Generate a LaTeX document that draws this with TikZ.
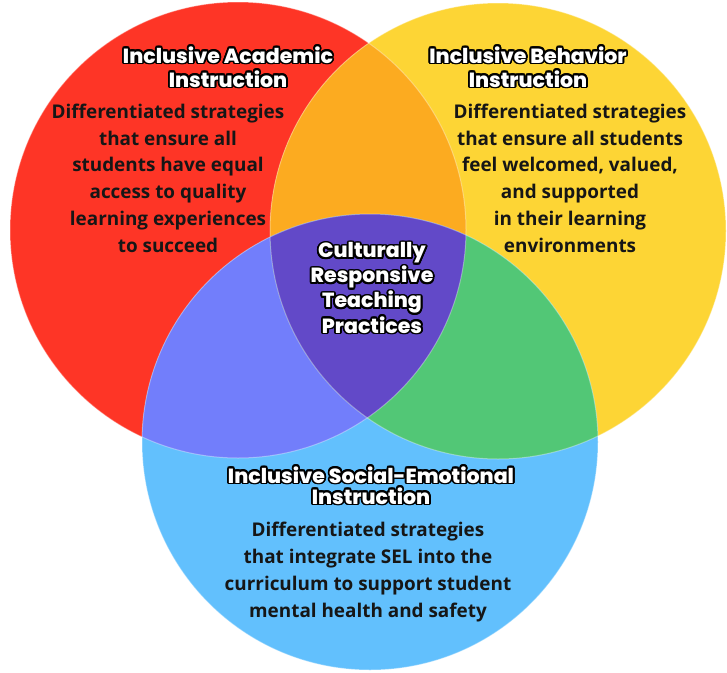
\documentclass[tikz,border=0pt]{standalone}
\usepackage{fontspec}
\usepackage{contour}
\newfontfamily\bodyfont{Open Sans}
\newfontfamily\headfont{Poppins}[BoldFont={Poppins ExtraBold}]
\contourlength{1.8pt}
\definecolor{redc}{RGB}{254,53,38}
\definecolor{yellowc}{RGB}{253,213,53}
\definecolor{bluec}{RGB}{98,192,253}
\definecolor{orangec}{RGB}{252,171,32}
\definecolor{violetc}{RGB}{114,126,251}
\definecolor{greenc}{RGB}{82,199,118}
\definecolor{purplec}{RGB}{98,73,200}
\definecolor{inkc}{RGB}{22,22,22}
\begin{document}
\begin{tikzpicture}[x=1pt,y=-1pt,
  venn/.style={line width=1pt,draw=white,draw opacity=0.35},
  head/.style={text=white,align=center,inner sep=0pt,anchor=base,
    font=\headfont\bfseries\fontsize{20.5}{#1}\selectfont},
  head/.default=24,
  body/.style={text=inkc,align=center,inner sep=0pt,anchor=base,
    font=\bodyfont\bfseries\fontsize{18.9}{26.7}\selectfont}]
\useasboundingbox (0,0) rectangle (727,672);
\fill[white] (0,0) rectangle (727,672);

\coordinate (acad) at (238,230);
\coordinate (behav) at (498,231);
\coordinate (sel) at (370,442);
\def\rad{228pt}

% circles
\fill[redc] (acad) circle (\rad);
\fill[yellowc] (behav) circle (\rad);
\fill[bluec] (sel) circle (\rad);

% overlaps
\begin{scope}
\clip (acad) circle (\rad);
\fill[orangec] (behav) circle (\rad);
\fill[violetc] (sel) circle (\rad);
\end{scope}
\begin{scope}
\clip (behav) circle (\rad);
\fill[greenc] (sel) circle (\rad);
\end{scope}
\begin{scope}
\clip (acad) circle (\rad);
\clip (behav) circle (\rad);
\fill[purplec] (sel) circle (\rad);
\end{scope}
\foreach \c in {acad,behav,sel}
  \draw[venn] (\c) circle (\rad);

% labels (anchored at the last line)
\node[head] (acadhead) at (228,87) {\contour{black}{Inclusive Academic}\\\contour{black}{Instruction}};
\node[body] (acadtext) at (168,252) {Differentiated strategies\\that ensure all\\students have equal\\access to quality\\learning experiences\\to succeed};

\node[head] (behavhead) at (528,87) {\contour{black}{Inclusive Behavior}\\\contour{black}{Instruction}};
\node[body] (behavtext) at (570,252) {Differentiated strategies\\that ensure all students\\feel welcomed, valued,\\and supported\\in their learning\\environments};

\node[head=21.7] (crtp) at (372,333) {\contour{black}{Culturally}\\\contour{black}{Responsive}\\\contour{black}{Teaching}\\\contour{black}{Practices}};

\node[head=21] (selhead) at (371,504) {\contour{black}{Inclusive Social-Emotional}\\\contour{black}{Instruction}};
\node[body] (seltext) at (368,617) {Differentiated strategies\\that integrate SEL into the\\curriculum to support student\\mental health and safety};
\end{tikzpicture}
\end{document}
